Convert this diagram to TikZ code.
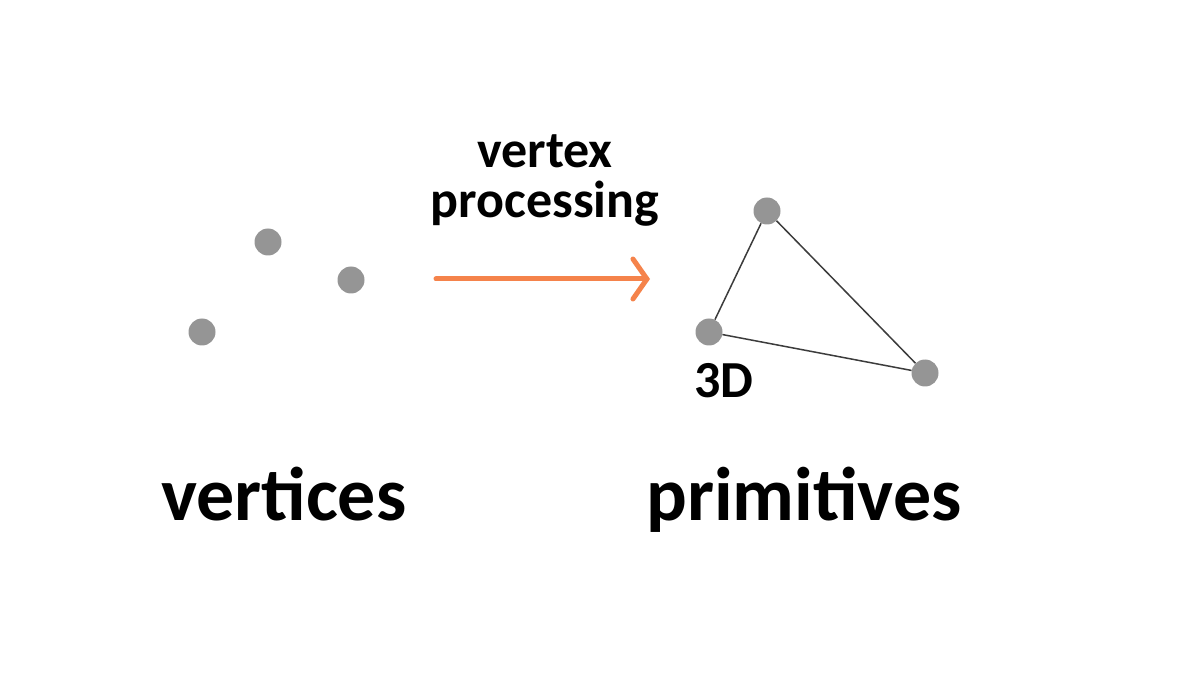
\documentclass[tikz,border=0pt]{standalone}
\usepackage{fontspec}
\setmainfont{Carlito}
\usetikzlibrary{arrows.meta}
\definecolor{dotgray}{HTML}{959595}
\definecolor{edgegray}{HTML}{3C3C3C}
\definecolor{arroworange}{HTML}{F5834B}
\begin{document}
\begin{tikzpicture}[x=1pt,y=-1pt,
  vdot/.style={circle,fill=dotgray,inner sep=0pt,minimum size=27pt},
  edge/.style={draw=edgegray,line width=1.5pt},
  bigtext/.style={font=\bfseries\fontsize{76}{84}\selectfont,anchor=base,inner sep=0pt},
  smalltext/.style={font=\bfseries\fontsize{52}{60}\selectfont,anchor=base,inner sep=0pt}]
\useasboundingbox (0,0) rectangle (1200,676);
% left vertices
\node[vdot] (a1) at (268,242) {};
\node[vdot] (a2) at (351,280) {};
\node[vdot] (a3) at (202,332) {};
% right triangle
\node[vdot] (b1) at (767,211) {};
\node[vdot] (b2) at (709,332) {};
\node[vdot] (b3) at (925,373) {};
\draw[edge] (b1) -- (b2);
\draw[edge] (b2) -- (b3);
\draw[edge] (b3) -- (b1);
% arrow
\coordinate (s) at (436,279);
\coordinate (e) at (650,279);
\draw[arroworange,line width=5pt,line cap=round,-{Straight Barb[length=14pt,width=40pt,line cap=round]}] (s) -- (e);
% labels
\node[smalltext] (t1) at (545,168) {vertex};
\node[smalltext] (t2) at (545,218) {processing};
\node[smalltext] (t3) at (724,397) {3D};
\node[bigtext] (l1) at (284,520) {vertices};
\node[bigtext] (l2) at (804,520) {primitives};
\end{tikzpicture}
\end{document}
